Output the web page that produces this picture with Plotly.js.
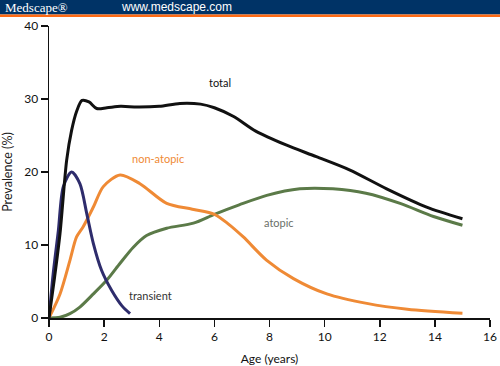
<!DOCTYPE html>
<html>
<head>
<meta charset="utf-8">
<script src="https://cdn.plot.ly/plotly-3.0.1.min.js"></script>
<style>
html,body{margin:0;padding:0;background:#fff;}
#chart{width:500px;height:366px;}
</style>
</head>
<body>
<div id="chart"></div>
<script>
// Data (Age in years, Prevalence in %)
const totalX = [0, 0.2, 0.4, 0.64, 0.82, 1.0, 1.2, 1.45, 1.73, 2.1, 2.6, 3.2, 4.0, 4.75, 5.5, 6.0, 6.7, 7.5, 8.6, 9.7, 10.9, 12.25, 13.7, 15.0];
const totalY = [0, 5.5, 11.6, 21.6, 25.7, 28.3, 29.8, 29.6, 28.7, 28.8, 29.0, 28.9, 29.0, 29.4, 29.3, 28.8, 27.6, 25.6, 23.7, 22.1, 20.3, 17.7, 15.2, 13.6];

const transientX = [0, 0.15, 0.34, 0.52, 0.82, 1.12, 1.37, 1.61, 1.91, 2.27, 2.64, 2.94];
const transientY = [0, 6.0, 12.0, 18.0, 20.0, 18.4, 14.3, 10.2, 6.5, 3.8, 1.7, 0.6];

const nonAtopicX = [0, 0.4, 0.76, 1.0, 1.24, 1.61, 1.97, 2.58, 3.3, 4.27, 5.2, 6.0, 6.5, 7.05, 7.9, 8.87, 10.08, 11.53, 13.0, 15.0];
const nonAtopicY = [0, 3.3, 7.9, 11.1, 12.5, 15.2, 18.0, 19.6, 18.4, 15.7, 14.9, 14.2, 12.9, 11.1, 7.9, 5.4, 3.3, 2.0, 1.2, 0.65];

const atopicX = [0, 0.4, 0.76, 1.12, 1.61, 2.1, 2.58, 3.06, 3.54, 4.27, 5.24, 6.0, 6.9, 7.9, 9.1, 10.3, 11.5, 12.74, 13.95, 15.0];
const atopicY = [0, 0.1, 0.6, 1.5, 3.3, 5.2, 7.5, 9.7, 11.3, 12.3, 13.0, 14.2, 15.5, 16.8, 17.7, 17.7, 17.1, 15.7, 13.9, 12.7];

const xTicks = [0, 2, 4, 6, 8, 10, 12, 14, 16];
const yTicks = [0, 10, 20, 30, 40];

const seriesLabels = ['total', 'non-atopic', 'atopic', 'transient'];
const labelPos = [[6.2, 32.2], [3.95, 21.8], [8.35, 13.1], [3.7, 3.1]];

const cTotal = '#111111', cNon = '#ef8a35', cAt = '#5b7a48', cTr = '#2e2c6c';

function line(x, y, color) {
  return {x: x, y: y, type: 'scatter', mode: 'lines',
    line: {color: color, width: 3, shape: 'spline', smoothing: 0.8},
    hoverinfo: 'skip', cliponaxis: false, showlegend: false};
}

const data = [
  line(atopicX, atopicY, cAt),
  line(nonAtopicX, nonAtopicY, cNon),
  line(transientX, transientY, cTr),
  line(totalX, totalY, cTotal)
];

// paper coords helpers: plot area x 49..490, y 26..317.7
const L = 49, R = 10, T = 26, B = 48.3;
const PW = 500 - L - R, PH = 366 - T - B;
const px = v => (v - L) / PW;
const py = v => (366 - B - v) / PH;

const labelColors = ['#111111', '#ef8a35', '#6b6f68', '#333333'];
const annotations = seriesLabels.map((t, i) => ({
  x: labelPos[i][0], y: labelPos[i][1], xref: 'x', yref: 'y',
  text: t, showarrow: false, xanchor: 'center', yanchor: 'middle',
  font: {family: 'Lato, "Open Sans", sans-serif', size: 11, color: labelColors[i]}
}));

annotations.push({
  x: px(3), y: py(7.5), xref: 'paper', yref: 'paper', text: 'Medscape\u00AE',
  showarrow: false, xanchor: 'left', yanchor: 'middle',
  font: {family: '"Liberation Serif", "DejaVu Serif", serif', size: 13, color: '#ffffff'}
});
annotations.push({
  x: px(119), y: py(7.5), xref: 'paper', yref: 'paper', text: 'www.medscape.com',
  showarrow: false, xanchor: 'left', yanchor: 'middle',
  font: {family: '"Liberation Sans", Arial, sans-serif', size: 12, color: '#ffffff'}
});

const shapes = [
  {type: 'rect', xref: 'paper', yref: 'paper', x0: px(0), x1: px(500), y0: py(14.5), y1: py(0),
   fillcolor: '#003366', line: {width: 0}, layer: 'below'},
  {type: 'rect', xref: 'paper', yref: 'paper', x0: px(0), x1: px(500), y0: py(17), y1: py(14.5),
   fillcolor: '#ff6a13', line: {width: 0}, layer: 'below'}
];

const axisFont = {family: 'Lato, "Open Sans", sans-serif', size: 12, color: '#111111'};

const layout = {
  width: 500, height: 366,
  margin: {l: L, r: R, t: T, b: B, pad: 0},
  paper_bgcolor: '#ffffff', plot_bgcolor: 'rgba(0,0,0,0)',
  showlegend: false,
  xaxis: {
    range: [0, 16], tickvals: xTicks, ticktext: xTicks.map(String),
    showline: true, linecolor: '#111111', linewidth: 1.5,
    ticks: 'outside', ticklen: 7, tickwidth: 1.5, tickcolor: '#111111',
    showgrid: false, zeroline: false, tickfont: axisFont,
    title: {text: 'Age (years)', font: {family: 'Lato, "Open Sans", sans-serif', size: 12, color: '#111111'}, standoff: 11},
    fixedrange: true
  },
  yaxis: {
    range: [0, 40], tickvals: yTicks, ticktext: yTicks.map(String),
    showline: true, linecolor: '#111111', linewidth: 1.5,
    ticks: 'outside', ticklen: 7, tickwidth: 1.5, tickcolor: '#111111',
    showgrid: false, zeroline: false, tickfont: axisFont,
    title: {text: 'Prevalence (%)', font: {family: 'Lato, "Open Sans", sans-serif', size: 12.5, color: '#222222'}, standoff: 9},
    fixedrange: true
  },
  annotations: annotations,
  shapes: shapes
};

Plotly.newPlot('chart', data, layout, {staticPlot: true, displayModeBar: false});
</script>
</body>
</html>
